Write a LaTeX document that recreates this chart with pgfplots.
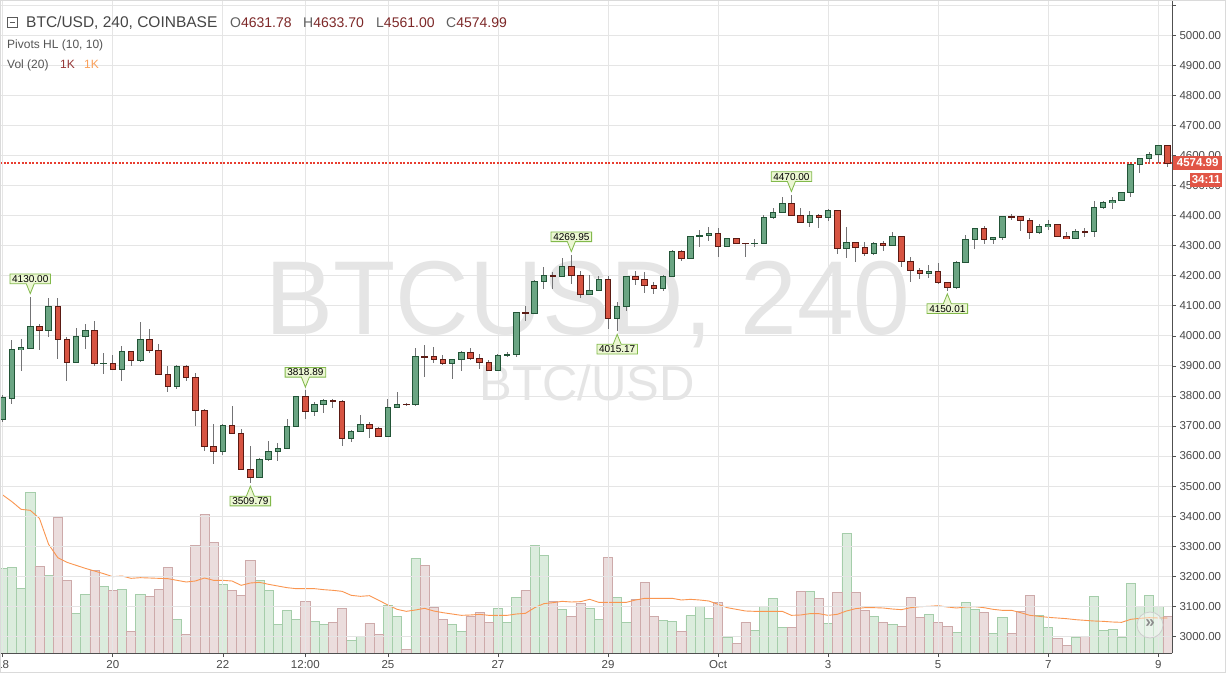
\documentclass[border=0pt]{standalone}
\usepackage{pgfplots}
\pgfplotsset{compat=1.18}
\usepackage{pgfplotstable}
\usepackage{fontspec}
\setmainfont{Liberation Sans}
\usetikzlibrary{shapes.callouts}

\definecolor{upfill}{RGB}{107,165,131}
\definecolor{upline}{RGB}{34,84,55}
\definecolor{dnfill}{RGB}{215,84,66}
\definecolor{dnline}{RGB}{91,26,19}
\definecolor{wick}{RGB}{115,115,117}
\definecolor{gridc}{RGB}{229,229,229}
\definecolor{axisc}{RGB}{80,80,80}
\definecolor{labc}{RGB}{74,74,74}
\definecolor{volup}{RGB}{138,195,145}
\definecolor{volupl}{RGB}{165,205,170}
\definecolor{voldn}{RGB}{192,145,145}
\definecolor{voldnl}{RGB}{205,170,170}
\definecolor{maorange}{RGB}{250,150,80}
\definecolor{wm}{RGB}{229,229,229}
\definecolor{pivfill}{RGB}{236,247,211}
\definecolor{pivline}{RGB}{130,185,75}
\definecolor{lastred}{RGB}{225,85,70}
\definecolor{pricered}{RGB}{232,62,48}
\definecolor{valred}{RGB}{125,40,40}
\definecolor{framec}{RGB}{218,218,218}
\definecolor{btnc}{RGB}{205,205,205}
\definecolor{btntxt}{RGB}{140,140,140}
\definecolor{iconc}{RGB}{90,90,90}
\definecolor{headc}{RGB}{70,70,70}
\definecolor{ohlcl}{RGB}{95,95,95}
\definecolor{subc}{RGB}{85,85,85}
\definecolor{kred}{RGB}{150,55,55}
\definecolor{korange}{RGB}{250,160,90}

\pgfplotstableread{
t o h l c v m
0 3720 3802 3712 3794 254 474
1 3792 3986 3773 3955 257 454
2 3955 3989 3884 3960 194 431
3 3958 4130 3955 4031 482 428
4 4031 4039 3952 4018 260 404
5 4018 4125 3997 4098 233 326
6 4098 4125 3922 3988 408 286
7 3988 3997 3851 3912 218 272
8 3912 4025 3910 3997 119 263
9 3997 4039 3955 4018 176 254
10 4018 4049 3900 3908 248 246
11 3908 3942 3874 3909 200 238
12 3908 3936 3886 3888 188 229
13 3888 3966 3851 3948 191 231
14 3948 3950 3900 3918 65 224
15 3918 4046 3912 3988 176 226
16 3988 4023 3942 3952 170 225
17 3952 3973 3870 3872 191 224
18 3872 3900 3812 3832 257 223
19 3832 3902 3822 3899 101 218
20 3899 3902 3851 3862 56 213
21 3862 3875 3701 3752 324 216
22 3752 3756 3615 3632 416 225
23 3633 3706 3572 3615 332 218
24 3615 3706 3605 3703 206 218
25 3703 3767 3674 3676 188 216
26 3676 3690 3554 3556 173 203
27 3556 3633 3509.79 3530 278 210
28 3530 3593 3528 3590 218 212
29 3590 3651 3583 3616 188 206
30 3616 3643 3583 3626 86 201
31 3626 3723 3624 3699 128 196
32 3699 3800 3698 3799 101 193
33 3799 3818.89 3723 3749 155 193
34 3749 3779 3733 3773 95 193
35 3773 3789 3743 3786 86 190
36 3786 3789 3759 3783 92 188
37 3783 3785 3633 3659 134 185
38 3659 3686 3646 3683 38 173
39 3683 3736 3679 3706 50 170
40 3706 3713 3659 3693 89 172
41 3693 3695 3663 3666 56 158
42 3666 3789 3664 3763 143 144
43 3763 3813 3762 3773 110 131
44 3773 3778 3765 3770 11 125
45 3770 3958 3765 3930 284 129
46 3930 3968 3862 3927 263 134
47 3930 3962 3908 3920 137 126
48 3920 3935 3902 3908 101 121
49 3908 3924 3855 3922 86 117
50 3922 3948 3884 3945 65 113
51 3945 3961 3918 3925 110 114
52 3925 3938 3888 3912 122 116
53 3912 3918 3883 3885 92 113
54 3885 3938 3882 3935 134 113
55 3935 3945 3928 3938 92 113
56 3938 4080 3928 4078 167 117
57 4078 4098 4048 4075 188 119
58 4075 4185 4073 4181 323 136
59 4181 4228 4155 4201 293 148
60 4201 4211 4155 4198 155 151
61 4198 4258 4196 4231 131 155
62 4231 4269.95 4171 4201 110 153
63 4201 4215 4125 4138 149 154
64 4138 4201 4136 4151 134 161
65 4151 4198 4150 4188 101 152
66 4188 4198 4022 4058 287 152
67 4058 4112 4015.17 4098 167 152
68 4098 4200 4082 4198 92 152
69 4198 4215 4168 4188 161 159
70 4188 4212 4142 4168 212 164
71 4168 4178 4138 4158 110 164
72 4158 4202 4148 4198 98 164
73 4198 4285 4195 4281 95 164
74 4281 4285 4248 4258 65 159
75 4258 4333 4256 4331 113 161
76 4331 4351 4295 4334 140 159
77 4334 4361 4315 4341 104 156
78 4341 4358 4261 4298 152 146
79 4298 4327 4296 4325 47 136
80 4325 4327 4305 4308 29 131
81 4308 4309 4261 4307 92 126
82 4307 4321 4295 4308 68 125
83 4308 4401 4306 4395 140 125
84 4395 4425 4388 4411 164 125
85 4411 4461 4409 4441 77 125
86 4441 4470 4399 4401 77 113
87 4401 4424 4374 4377 185 114
88 4377 4414 4363 4401 185 118
89 4401 4404 4358 4394 164 118
90 4394 4421 4381 4418 89 113
91 4418 4420 4271 4291 182 116
92 4291 4361 4258 4311 359 126
93 4311 4313 4244 4294 182 133
94 4294 4311 4264 4274 128 136
95 4274 4311 4268 4308 110 136
96 4308 4314 4281 4301 92 135
97 4301 4344 4300 4331 86 132
98 4331 4333 4228 4248 80 130
99 4248 4261 4178 4218 167 136
100 4218 4224 4188 4208 107 139
101 4208 4234 4194 4214 116 140
102 4214 4241 4171 4178 92 142
103 4178 4180 4150.01 4161 80 138
104 4161 4248 4155 4244 62 135
105 4244 4334 4243 4321 152 138
106 4321 4360 4288 4358 131 139
107 4358 4364 4304 4321 122 136
108 4321 4330 4304 4328 59 131
109 4327 4400 4320 4397 107 128
110 4397 4407 4387 4394 59 128
111 4397 4400 4350 4383 125 121
112 4383 4393 4323 4343 173 113
113 4343 4373 4340 4363 113 110
114 4363 4387 4353 4370 77 107
115 4370 4372 4328 4330 44 105
116 4330 4347 4322 4323 23 103
117 4323 4357 4321 4347 47 100
118 4348 4360 4330 4346 50 98
119 4347 4450 4330 4427 170 96
120 4427 4450 4423 4443 68 95
121 4443 4463 4423 4450 71 93
122 4450 4478 4448 4477 47 92
123 4477 4571 4463 4570 209 101
124 4570 4592 4543 4590 140 104
125 4590 4613 4576 4603 173 106
126 4603 4634 4576 4631.78 140 105
127 4631.78 4633.70 4561.00 4574.99 110 105
}\candles

\pgfplotsset{
  candlepart/.style n args={2}{draw=none, mark=none, forget plot,
    /pgfplots/error bars/y dir=both, /pgfplots/error bars/y explicit,
    /pgfplots/error bars/error mark=none,
    /pgfplots/error bars/error bar style={draw=#1, line width=#2}},
}

\begin{document}
\begin{tikzpicture}[x=1pt,y=1pt]
\useasboundingbox (0,0) rectangle (1226,673);
\fill[white] (0,0) rectangle (1226,673);

% watermark
\node[anchor=base, text=wm, font=\fontsize{105}{110}\selectfont, xscale=0.97, inner sep=0pt] at (588,338) {BTCUSD, 240};
\node[anchor=base, text=wm, font=\fontsize{49}{52}\selectfont, inner sep=0pt] at (587,273) {BTC/USD};

% volume pane
\begin{axis}[
  at={(0pt,20pt)}, anchor=south west, scale only axis,
  width=1172pt, height=653pt,
  xmin=-0.3, xmax=127.5, ymin=0, ymax=1959,
  hide axis,
]
\addplot[ybar, bar width=1, bar shift=0pt, fill=volup, fill opacity=0.3, draw=volupl, line width=0.6pt,
  y filter/.expression={\thisrow{c}>=\thisrow{o} ? y : nan}]
  table[x=t, y=v] {\candles};
\addplot[ybar, bar width=1, bar shift=0pt, fill=voldn, fill opacity=0.3, draw=voldnl, line width=0.6pt,
  y filter/.expression={\thisrow{c}<\thisrow{o} ? y : nan}]
  table[x=t, y=v] {\candles};
\addplot[maorange, line width=0.9pt, mark=none] table[x=t, y=m] {\candles};
\end{axis}

% price pane
\begin{axis}[
  at={(0pt,20pt)}, anchor=south west, scale only axis,
  width=1172pt, height=653pt,
  xmin=-0.3, xmax=127.5, ymin=2944.4, ymax=5117.5,
  axis x line*=bottom, axis y line*=right,
  axis line style={axisc, line width=0.8pt},
  xtick={0,12,24,33,42,54,66,78,90,102,114,126},
  xticklabels={18,20,22,12:00,25,27,29,Oct,3,5,7,9},
  ytick={3000,3100,...,5000},
  extra y ticks={5100}, extra y tick labels={},
  grid=major, major grid style={gridc, line width=0.8pt},
  tick align=outside, major tick length=4pt,
  tick style={axisc, line width=0.6pt},
  yticklabel pos=right,
  y tick label style={font=\fontsize{11.5}{13}\selectfont, text=labc,
    /pgf/number format/.cd, fixed, fixed zerofill, precision=2, 1000 sep={}, assume math mode=true},
  x tick label style={font=\fontsize{11.5}{13}\selectfont, text=labc},
]
% price line
\addplot[pricered, line width=1.2pt, dash pattern=on 2pt off 1.6pt] coordinates {(-0.3,4574.99) (127.5,4574.99)};
% wicks
\addplot[candlepart={wick}{1pt}]
  table[x=t, y expr={(\thisrow{h}+\thisrow{l})/2}, y error expr={(\thisrow{h}-\thisrow{l})/2}] {\candles};
% up bodies
\addplot[y filter/.expression={\thisrow{c}>=\thisrow{o} ? y : nan}, candlepart={upline}{6.5pt}]
  table[x=t, y expr={(\thisrow{o}+\thisrow{c})/2}, y error expr={abs(\thisrow{c}-\thisrow{o})/2+1.66}] {\candles};
\addplot[y filter/.expression={\thisrow{c}>=\thisrow{o} ? y : nan}, candlepart={upfill}{4.5pt}]
  table[x=t, y expr={(\thisrow{o}+\thisrow{c})/2}, y error expr={max(abs(\thisrow{c}-\thisrow{o})/2-1.66,0)}] {\candles};
% down bodies
\addplot[y filter/.expression={\thisrow{c}<\thisrow{o} ? y : nan}, candlepart={dnline}{6.5pt}]
  table[x=t, y expr={(\thisrow{o}+\thisrow{c})/2}, y error expr={abs(\thisrow{c}-\thisrow{o})/2+1.66}] {\candles};
\addplot[y filter/.expression={\thisrow{c}<\thisrow{o} ? y : nan}, candlepart={dnfill}{4.5pt}]
  table[x=t, y expr={(\thisrow{o}+\thisrow{c})/2}, y error expr={max(abs(\thisrow{c}-\thisrow{o})/2-1.66,0)}] {\candles};
% pivot highs
\addplot[draw=none, mark=none, point meta=explicit symbolic, nodes near coords,
  every node near coord/.style={rectangle callout, fill=pivfill, draw=pivline, line width=0.8pt,
    text=black, font=\fontsize{10}{11}\selectfont, inner xsep=2.2pt, inner ysep=1.3pt,
    callout relative pointer={(0pt,-10pt)}, callout pointer width=8pt, anchor=pointer, yshift=2pt}]
  coordinates {(3,4130.00)[4130.00] (33,3818.89)[3818.89] (62,4269.95)[4269.95] (86,4470.00)[4470.00]};
% pivot lows
\addplot[draw=none, mark=none, point meta=explicit symbolic, nodes near coords,
  every node near coord/.style={rectangle callout, fill=pivfill, draw=pivline, line width=0.8pt,
    text=black, font=\fontsize{10}{11}\selectfont, inner xsep=2.2pt, inner ysep=1.3pt,
    callout relative pointer={(0pt,10pt)}, callout pointer width=8pt, anchor=pointer, yshift=-2pt}]
  coordinates {(27,3509.79)[3509.79] (67,4015.17)[4015.17] (103,4150.01)[4150.01]};
\end{axis}

% last price labels
\node[fill=lastred, text=white, font=\fontsize{11.5}{13}\selectfont\bfseries, inner sep=0pt,
  minimum height=14pt, minimum width=49pt, anchor=west] at (1173,510) {4574.99};
\node[fill=lastred, text=white, font=\fontsize{11.5}{13}\selectfont\bfseries, inner sep=0pt,
  minimum height=14pt, minimum width=32pt, anchor=west] at (1190,493) {34:11};

% scroll button
\draw[btnc, fill=white, fill opacity=0.4, line width=0.8pt] (1150,48) circle (13);
\node[text=btntxt, font=\fontsize{17}{17}\selectfont\bfseries] at (1150,49.5) {»};

% header
\draw[iconc, line width=0.8pt] (7.5,645.5) rectangle (17.5,655.5);
\draw[iconc, line width=0.8pt] (9.8,650.5) -- (15.2,650.5);
\node[anchor=base west, inner sep=0pt, text=headc, font=\fontsize{15.5}{17}\selectfont] at (26,645.3) {BTC/USD, 240, COINBASE};
\node[anchor=base west, inner sep=0pt, font=\fontsize{14}{16}\selectfont] at (230,645.3) {\textcolor{ohlcl}{O}\textcolor{valred}{4631.78}};
\node[anchor=base west, inner sep=0pt, font=\fontsize{14}{16}\selectfont] at (303,645.3) {\textcolor{ohlcl}{H}\textcolor{valred}{4633.70}};
\node[anchor=base west, inner sep=0pt, font=\fontsize{14}{16}\selectfont] at (376,645.3) {\textcolor{ohlcl}{L}\textcolor{valred}{4561.00}};
\node[anchor=base west, inner sep=0pt, font=\fontsize{14}{16}\selectfont] at (446,645.3) {\textcolor{ohlcl}{C}\textcolor{valred}{4574.99}};
\node[anchor=base west, inner sep=0pt, text=subc, font=\fontsize{12}{14}\selectfont] at (7,624.7) {Pivots HL (10, 10)};
\node[anchor=base west, inner sep=0pt, text=subc, font=\fontsize{12}{14}\selectfont] at (7,604.7) {Vol (20)};
\node[anchor=base west, inner sep=0pt, text=kred, font=\fontsize{12}{14}\selectfont] at (60,604.7) {1K};
\node[anchor=base west, inner sep=0pt, text=korange, font=\fontsize{12}{14}\selectfont] at (84,604.7) {1K};

% frame
\draw[framec, line width=0.8pt] (0.5,0.5) rectangle (1225.5,672.5);
\end{tikzpicture}
\end{document}
